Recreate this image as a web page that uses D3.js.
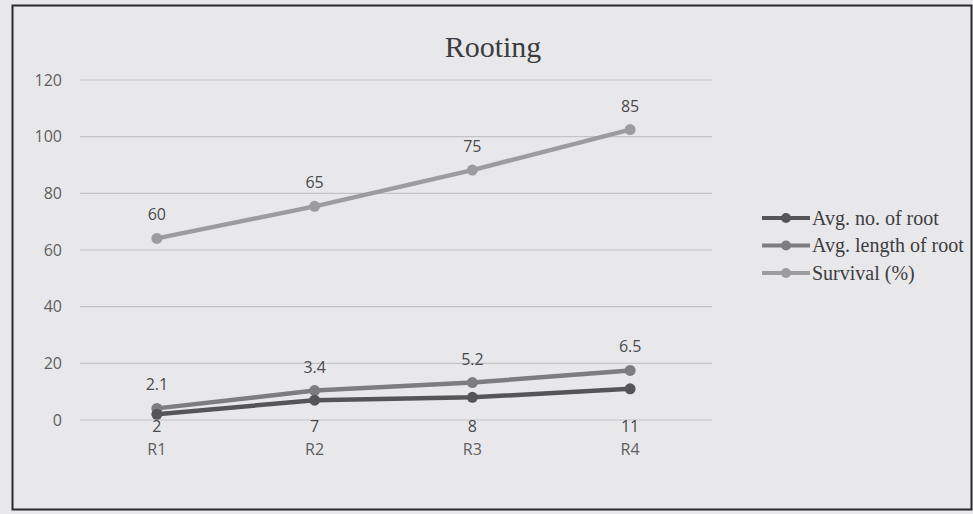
<!DOCTYPE html>
<html>
<head>
<meta charset="utf-8">
<script src="https://cdn.jsdelivr.net/npm/d3@7"></script>
<style>
  body { margin: 0; background: #fff; }
  svg { display: block; }
</style>
</head>
<body>
<div id="chart"></div>
<script>
// values (stacked line chart, labels show raw values)
var categories = ["R1", "R2", "R3", "R4"];
var seriesNames = ["Avg. no. of root", "Avg. length of root", "Survival (%)"];
var avgNoRoot = [2, 7, 8, 11];
var avgLengthRoot = [2.1, 3.4, 5.2, 6.5];
var survival = [60, 65, 75, 85];
var yTicks = [0, 20, 40, 60, 80, 100, 120];

var seriesColors = ["#555557", "#7d7d80", "#9c9c9f"];

var W = 973, H = 514;
var margin = {top: 80, right: 264, bottom: 94, left: 78},
    width = W - margin.left - margin.right,
    height = H - margin.top - margin.bottom;

var svg = d3.select("#chart").append("svg")
    .attr("width", W)
    .attr("height", H);

// paper background + frame
svg.append("rect")
    .attr("x", 0).attr("y", 0)
    .attr("width", W).attr("height", H)
    .attr("fill", "#e8e8eb");
svg.append("rect")
    .attr("x", 12.5).attr("y", 5.5)
    .attr("width", W - 14).attr("height", H - 10)
    .attr("fill", "none")
    .attr("stroke", "#2a2a2a")
    .attr("stroke-width", 2);

// title
svg.append("text")
    .attr("x", 493)
    .attr("y", 57)
    .attr("text-anchor", "middle")
    .attr("font-family", "Liberation Serif, serif")
    .attr("font-size", 30)
    .attr("fill", "#3c3c3e")
    .text("Rooting");

var g = svg.append("g")
    .attr("transform", "translate(" + margin.left + "," + margin.top + ")");

var x = d3.scaleBand()
    .domain(categories)
    .range([0, width]);

var y = d3.scaleLinear()
    .domain([0, 120])
    .range([height, 0]);

// build stacked table
var raw = [avgNoRoot, avgLengthRoot, survival];
var table = categories.map(function(c, i) {
  var row = {cat: c};
  seriesNames.forEach(function(s, k) { row[s] = raw[k][i]; });
  return row;
});
var stacked = d3.stack().keys(seriesNames)(table);

// gridlines
g.append("g")
    .selectAll("line")
    .data(yTicks)
    .enter().append("line")
    .attr("x1", 2).attr("x2", width + 3)
    .attr("y1", function(d) { return y(d); })
    .attr("y2", function(d) { return y(d); })
    .attr("stroke", "#c4c4c7")
    .attr("stroke-width", 1.2);

// y axis labels
var yAxis = g.append("g")
    .call(d3.axisLeft(y).tickValues(yTicks).tickSize(0).tickPadding(16));
yAxis.select(".domain").remove();
yAxis.selectAll("text")
    .attr("font-family", "Open Sans, sans-serif")
    .attr("font-size", 16)
    .attr("fill", "#5e5e60");

// x axis labels
var xAxis = g.append("g")
    .attr("transform", "translate(0," + height + ")")
    .call(d3.axisBottom(x).tickSize(0).tickPadding(24));
xAxis.select(".domain").remove();
xAxis.selectAll("text")
    .attr("font-family", "Open Sans, sans-serif")
    .attr("font-size", 16)
    .attr("fill", "#5e5e60");

var cx = function(d) { return x(d.data.cat) + x.bandwidth() / 2; };

var line = d3.line()
    .x(cx)
    .y(function(d) { return y(d[1]); });

// lines and markers (draw survival first, so the lower lines sit on top)
var series = g.selectAll(".series")
    .data(stacked.slice().reverse())
    .enter().append("g")
    .attr("class", "series");

series.append("path")
    .attr("d", line)
    .attr("fill", "none")
    .attr("stroke", function(d) { return seriesColors[d.index]; })
    .attr("stroke-width", 4.5)
    .attr("stroke-linejoin", "round");

series.selectAll("circle")
    .data(function(d) { return d.map(function(p) { p.index = d.index; return p; }); })
    .enter().append("circle")
    .attr("cx", cx)
    .attr("cy", function(d) { return y(d[1]); })
    .attr("r", 5.5)
    .attr("fill", function(d) { return seriesColors[d.index]; });

// data labels
series.selectAll(".lbl")
    .data(function(d) { return d.map(function(p) { return {p: p, key: d.key, index: d.index}; }); })
    .enter().append("text")
    .attr("class", "lbl")
    .attr("x", function(d) { return cx(d.p); })
    .attr("y", function(d) {
      // first series labels sit just under the axis line, others above the point
      return d.index === 0 ? y(0) + 12 : y(d.p[1]) - 18;
    })
    .attr("text-anchor", "middle")
    .attr("font-family", "Open Sans, sans-serif")
    .attr("font-size", 16)
    .attr("fill", "#4a4a4c")
    .text(function(d) { return d.p.data[d.key]; });

// legend
var legend = svg.append("g")
    .attr("transform", "translate(762,218)")
    .selectAll("g")
    .data(seriesNames)
    .enter().append("g")
    .attr("transform", function(d, i) { return "translate(0," + (i * 27.5) + ")"; });

legend.append("line")
    .attr("x1", 0).attr("x2", 48)
    .attr("y1", 0).attr("y2", 0)
    .attr("stroke", function(d, i) { return seriesColors[i]; })
    .attr("stroke-width", 4);

legend.append("circle")
    .attr("cx", 24).attr("cy", 0)
    .attr("r", 5)
    .attr("fill", function(d, i) { return seriesColors[i]; });

legend.append("text")
    .attr("x", 50)
    .attr("y", 0)
    .attr("dy", "0.33em")
    .attr("font-family", "Liberation Serif, serif")
    .attr("font-size", 20)
    .attr("fill", "#3c3c3e")
    .text(function(d) { return d; });
</script>
</body>
</html>
